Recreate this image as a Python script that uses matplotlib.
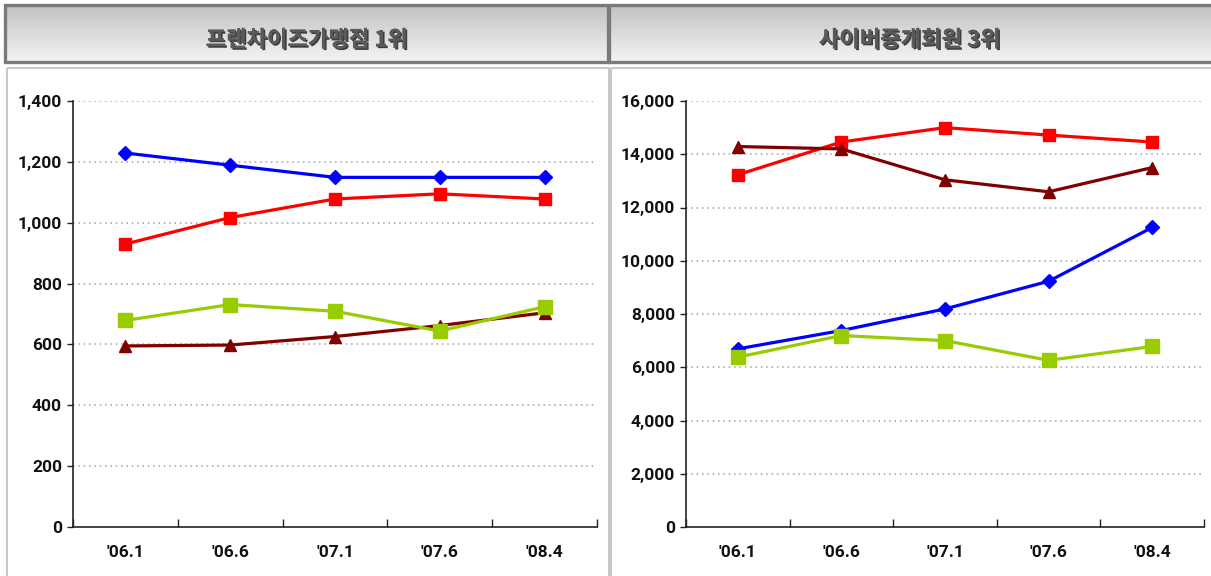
import matplotlib
matplotlib.use("Agg")
import matplotlib.pyplot as plt
import matplotlib.patheffects as pe
import numpy as np
from matplotlib.patches import Rectangle
from matplotlib.colors import LinearSegmentedColormap

plt.rcParams['font.family'] = ['Noto Sans CJK KR', 'DejaVu Sans']

categories = ["'06.1", "'06.6", "'07.1", "'07.6", "'08.4"]

left_title = "프랜차이즈가맹점 1위"
left_blue = [1229, 1189, 1149, 1149, 1149]
left_red = [930, 1017, 1078, 1095, 1078]
left_darkred = [595, 598, 626, 662, 704]
left_green = [679, 731, 709, 644, 724]
left_ticks = [0, 200, 400, 600, 800, 1000, 1200, 1400]

right_title = "사이버중개회원 3위"
right_blue = [6690, 7380, 8190, 9230, 11250]
right_red = [13230, 14460, 15000, 14720, 14460]
right_darkred = [14290, 14200, 13040, 12590, 13500]
right_green = [6380, 7190, 7000, 6260, 6780]
right_ticks = [0, 2000, 4000, 6000, 8000, 10000, 12000, 14000, 16000]

W, H = 1211, 576
fig = plt.figure(figsize=(W / 100, H / 100), dpi=100)

bg = fig.add_axes([0, 0, 1, 1])
bg.set_xlim(0, W)
bg.set_ylim(H, 0)
bg.axis('off')

grad = np.linspace(0, 1, 64).reshape(-1, 1)
cmap = LinearSegmentedColormap.from_list('g', ['#c2c2c2', '#f4f4f4'])
for (x0, x1, cx, title) in [(5, 608, 307, left_title), (609, 1215, 910, right_title)]:
    bg.imshow(grad, cmap=cmap, extent=(x0, x1, 62, 5), aspect='auto', zorder=1)
    bg.add_patch(Rectangle((x0, 5), x1 - x0, 57, fill=False, edgecolor='#7a7a7a', lw=2.4, zorder=2))
    bg.text(cx, 40, title, ha='center', va='center',
            fontsize=16, fontweight='bold', color='#5a5a5a', zorder=3,
            path_effects=[pe.withSimplePatchShadow(offset=(1.2, -1.2), shadow_rgbFace='#222222', alpha=0.85), pe.Normal()])

bg.add_patch(Rectangle((7, 68), 602, 520, fill=False, edgecolor='#c8c8c8', lw=1.5, zorder=2))
bg.add_patch(Rectangle((611, 68), 610, 520, fill=False, edgecolor='#c8c8c8', lw=1.5, zorder=2))


def make_panel(rect, blue, red, darkred, green, ticks):
    ax = fig.add_axes(rect)
    x = np.arange(len(categories))
    lw = 2.3
    ax.plot(x, blue, color='#0000ff', lw=lw, marker='D', ms=7.5, zorder=3, clip_on=False)
    ax.plot(x, red, color='#ff0000', lw=lw, marker='s', ms=8.5, zorder=3, clip_on=False)
    ax.plot(x, darkred, color='#800000', lw=lw, marker='^', ms=9, zorder=3, clip_on=False)
    ax.plot(x, green, color='#99cc00', lw=lw, marker='s', ms=9.5, zorder=3, clip_on=False)
    ax.set_xlim(-0.5, len(categories) - 0.5)
    ax.set_ylim(ticks[0], ticks[-1])
    ax.set_yticks(ticks)
    ax.set_yticklabels([f"{t:,}" for t in ticks])
    for t in ticks[1:]:
        ax.axhline(t, color='#a0a0a0', lw=1.1, ls=(0, (1, 2.5)), zorder=1)
    ax.set_xticks(x)
    ax.set_xticklabels(categories)
    ax.set_xticks(np.arange(-0.5, len(categories)), minor=True)
    ax.tick_params(axis='x', which='major', length=0, pad=13)
    ax.tick_params(axis='x', which='minor', direction='in', length=6, width=1, color='#222222')
    ax.tick_params(axis='y', direction='out', length=4, width=1, color='#222222', pad=4)
    for lab in ax.get_xticklabels() + ax.get_yticklabels():
        lab.set_fontfamily(['Roboto', 'DejaVu Sans'])
        lab.set_fontweight('bold')
        lab.set_fontsize(12.5)
        lab.set_color('#111111')
    for s in ['top', 'right']:
        ax.spines[s].set_visible(False)
    for s in ['left', 'bottom']:
        ax.spines[s].set_color('#222222')
        ax.spines[s].set_linewidth(1.2)
    ax.patch.set_alpha(0)
    return ax

bottom = 1 - 527 / H
height = (527 - 101) / H
make_panel([73 / W, bottom, (597 - 73) / W, height], left_blue, left_red, left_darkred, left_green, left_ticks)
make_panel([686 / W, bottom, (1204 - 686) / W, height], right_blue, right_red, right_darkred, right_green, right_ticks)

fig.savefig('out.png', dpi=100)
